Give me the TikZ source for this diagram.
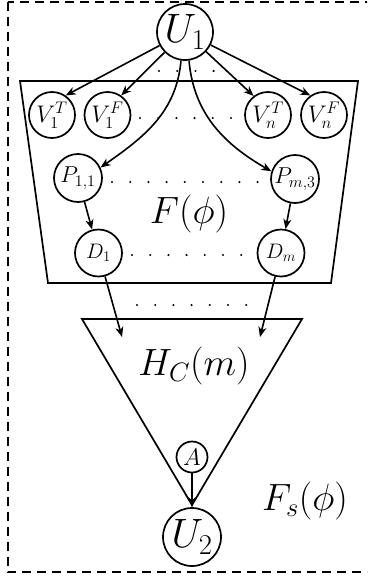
\RequirePackage{fix-cm}
\documentclass[tikz,border=0pt]{standalone}
\usetikzlibrary{arrows.meta}
\begin{document}
\begin{tikzpicture}[x=1pt,y=-1pt,
  circ/.style={draw, circle, inner sep=0pt, line width=1.7pt},
  arr/.style={-{Stealth[length=10pt,width=8pt,inset=3pt]}, line width=1.6pt},
  dotrow/.style={line width=2.3pt, line cap=round, dash pattern=on 0pt off 18.2pt},
  outline/.style={draw, line width=1.7pt, line join=miter},
  big/.style={font=\fontsize{41}{44}\selectfont},
  med/.style={font=\fontsize{38}{42}\selectfont},
  vsz/.style={font=\fontsize{24}{26}\selectfont},
  psz/.style={font=\fontsize{23}{26}\selectfont},
  dsz/.style={font=\fontsize{21}{24}\selectfont},
  asz/.style={font=\fontsize{24}{26}\selectfont}]
\useasboundingbox (0,0) rectangle (367,581);
\clip (0,0) rectangle (367,581);
% frame
\draw[line width=2pt, dash pattern=on 9pt off 6pt] (7.5,1.5) rectangle (385,572);
% containers
\draw[outline] (20,81) -- (358,81) -- (331,283) -- (48,283) -- cycle;
\draw[outline] (82,319) -- (302,319) -- (192,505) -- cycle;
% nodes
\node[circ, minimum size=56pt, big] (U1) at (185,32) {$U_1$};
\node[circ, minimum size=46pt, vsz] (V1T) at (52,115) {$V_1^T$};
\node[circ, minimum size=46pt, vsz] (V1F) at (107.5,115) {$V_1^F$};
\node[circ, minimum size=46pt, vsz] (VnT) at (268,115) {$V_n^T$};
\node[circ, minimum size=46pt, vsz] (VnF) at (324,115) {$V_n^F$};
\node[circ, minimum size=48pt, psz] (P11) at (78,178) {$P_{1,1}$};
\node[circ, minimum size=48pt, psz] (Pm3) at (295,179) {$P_{m,3}$};
\node[circ, minimum size=47pt, dsz] (D1) at (98.5,253) {$D_1$};
\node[circ, minimum size=47pt, dsz] (Dm) at (281,253) {$D_m$};
\node[circ, minimum size=31pt, asz] (A) at (192,457) {$A$};
\node[circ, minimum size=58pt, big] (U2) at (192,537) {$U_2$};
% labels
\node[med] (Fphi) at (189,214) {$F(\phi)$};
\node[med] (HC) at (194,366) {$H_C(m)$};
\node[med] (Fs) at (305,501) {$F_s(\phi)$};
% arrow targets in H
\coordinate (h1) at (122,337);
\coordinate (hm) at (260,337);
% arrows
\draw[arr] (U1) -- (V1T.55);
\draw[arr] (U1) -- (V1F.55);
\draw[arr] (U1) -- (VnT.127);
\draw[arr] (U1) -- (VnF.125);
\draw[arr] (U1.262) to[out=-95, in=35] (P11.25);
\draw[arr] (U1.278) to[out=-85, in=150] (Pm3.162);
\draw[arr] (P11) -- (D1);
\draw[arr] (Pm3) -- (Dm);
\draw[arr] (D1) -- (h1);
\draw[arr] (Dm) -- (hm);
\draw[arr] (A) -- (U2);
% dots
\draw[dotrow] (159,71) -- (214,71);
\draw[dotrow] (140,118) -- (231,118);
\draw[dotrow] (112,182) -- (258,182);
\draw[dotrow] (132,255) -- (242.5,255);
\draw[dotrow] (137,305) -- (247.5,305);
\end{tikzpicture}
\end{document}
